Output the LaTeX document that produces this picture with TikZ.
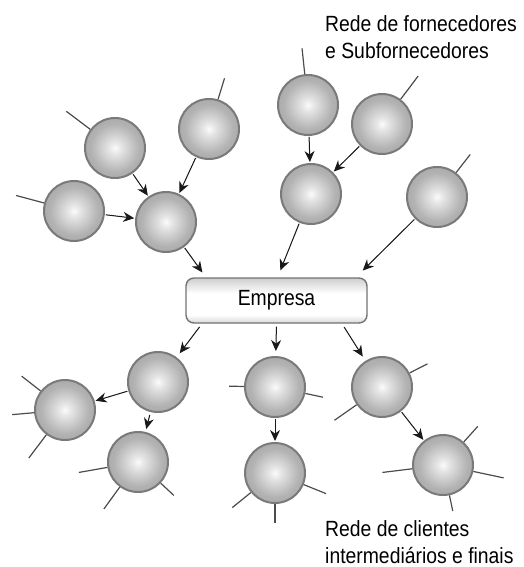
\documentclass[tikz,border=0pt]{standalone}
\usepackage{fontspec}
\setmainfont{Liberation Sans}[FakeStretch=0.88]
\usetikzlibrary{arrows.meta}
\pgfdeclareradialshading{sphsh}{\pgfpoint{0bp}{0bp}}{color(0bp)=(white!97!gray); color(5bp)=(white!80!gray); color(20bp)=(gray!60); color(36bp)=(gray!78); color(50bp)=(gray!92)}
\pgfdeclareverticalshading{boxsh}{100bp}{color(0bp)=(gray!100); color(16bp)=(gray!60); color(34bp)=(white); color(58bp)=(white); color(78bp)=(gray!45); color(100bp)=(gray!85)}
\tikzset{
  sph/.style={circle, minimum size=60pt, inner sep=0pt, shading=sphsh, draw=black!52, line width=2pt},
  boxnode/.style={rounded corners=8pt, minimum width=181pt, minimum height=45pt, inner sep=0pt, shading=boxsh, draw=black!55, line width=1.4pt, font=\fontsize{22}{26}\selectfont},
  arr/.style={-{Stealth[length=11pt,width=10pt]}, line width=1pt, draw=black!90, fill=black, shorten >=1pt, shorten <=1pt},
  stub/.style={line width=1.2pt, draw=black!70},
  lbl/.style={anchor=north west, inner sep=0pt, align=left, font=\fontsize{22}{27}\selectfont}
}
\begin{document}
\begin{tikzpicture}[x=1pt,y=-1pt]
\useasboundingbox (0,0) rectangle (524,567);
% top spheres
\node[sph] (A) at (115,148) {};
\node[sph] (B) at (209,129) {};
\node[sph] (C) at (74,211) {};
\node[sph] (D) at (166,222) {};
\node[sph] (E) at (308,105) {};
\node[sph] (F) at (382,124) {};
\node[sph] (G) at (311,194) {};
\node[sph] (H) at (437,197) {};
% company
\node[boxnode] (Emp) at (276.5,300.5) {Empresa};
% bottom spheres
\node[sph] (I) at (158,382) {};
\node[sph] (J) at (65,410) {};
\node[sph] (K) at (138,462) {};
\node[sph] (L) at (275,387) {};
\node[sph] (M) at (275,473) {};
\node[sph] (N) at (382,387) {};
\node[sph] (O) at (443,465) {};
% stubs (polar angles negated because the y axis points down)
\draw[stub] (A.143) -- ++(-143:30);
\draw[stub] (B.73) -- ++(-73:22);
\draw[stub] (C.165) -- ++(-165:29);
\draw[stub] (E.96) -- ++(-96:26);
\draw[stub] (F.53) -- ++(-53:29);
\draw[stub] (H.52) -- ++(-52:23);
\draw[stub] (J.142) -- ++(-142:24);
\draw[stub] (J.185) -- ++(-185:22);
\draw[stub] (J.233) -- ++(-233:29);
\draw[stub] (K.190) -- ++(-190:29);
\draw[stub] (K.234) -- ++(-234:27);
\draw[stub] (K.317) -- ++(-317:18);
\draw[stub] (L.179) -- ++(-179:15);
\draw[stub] (L.348) -- ++(-348:18);
\draw[stub] (M.219) -- ++(-219:24);
\draw[stub] (M.338) -- ++(-338:24);
\draw[stub] (M.270) -- ++(-270:19);
\draw[stub] (N.27) -- ++(-27:20);
\draw[stub] (N.215) -- ++(-215:27);
\draw[stub] (O.48) -- ++(-48:21);
\draw[stub] (O.187) -- ++(-187:30);
\draw[stub] (O.348) -- ++(-348:31);
\draw[stub] (O.282) -- ++(-282:16);
% arrows (suppliers)
\draw[arr] (A) -- (D);
\draw[arr] (B) -- (D);
\draw[arr] (C) -- (D);
\draw[arr] (E) -- (G);
\draw[arr] (F) -- (G);
\draw[arr] (D) -- ([xshift=-73.5pt,yshift=4pt]Emp.north);
\draw[arr] (G) -- ([xshift=3.5pt,yshift=6pt]Emp.north);
\draw[arr] (H) -- ([xshift=85.5pt,yshift=6pt]Emp.north);
% arrows (clients)
\draw[arr, shorten <=4pt, shorten >=5pt] ([xshift=-74.5pt]Emp.south) -- (I);
\draw[arr, shorten <=3pt, shorten >=5pt] (Emp.south) -- (L);
\draw[arr, shorten <=4pt, shorten >=5pt] ([xshift=65.5pt]Emp.south) -- (N);
\draw[arr] (I) -- (J);
\draw[arr, shorten <=3pt, shorten >=3pt] (I) -- (K);
\draw[arr] (L) -- (M);
\draw[arr] (N) -- (O);
% labels
\node[lbl] (T1) at (325,15.5) {Rede de fornecedores\\e Subfornecedores};
\node[lbl] (T2) at (325,520) {Rede de clientes\\intermediários e finais};
\end{tikzpicture}
\end{document}
